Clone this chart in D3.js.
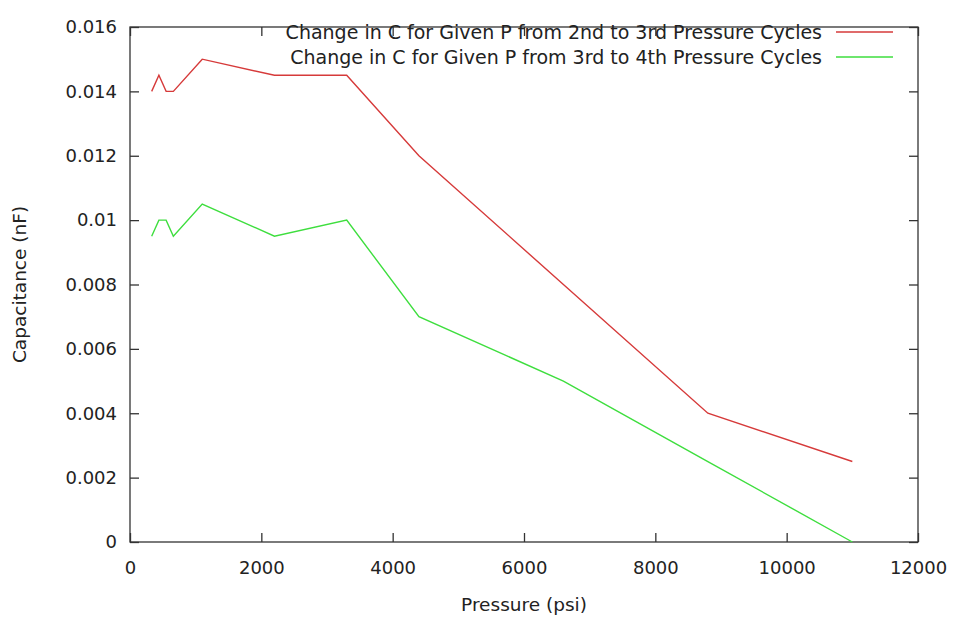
<!DOCTYPE html>
<html>
<head>
<meta charset="utf-8">
<script src="https://cdn.jsdelivr.net/npm/d3@7"></script>
<style>
html,body{margin:0;padding:0;background:#fff;}
svg{display:block;}
text{font-family:"DejaVu Sans",sans-serif;fill:#222;}
</style>
</head>
<body>
<svg id="chart" width="953" height="618"></svg>
<script>
const pressure = [330, 440, 550, 660, 1100, 2200, 3300, 4400, 6600, 8800, 11000];
const change23 = [0.014, 0.0145, 0.014, 0.014, 0.015, 0.0145, 0.0145, 0.012, 0.008, 0.004, 0.0025];
const change34 = [0.0095, 0.010, 0.010, 0.0095, 0.0105, 0.0095, 0.010, 0.007, 0.005, 0.0025, 0];
const seriesNames = [
  "Change in C for Given P from 2nd to 3rd Pressure Cycles",
  "Change in C for Given P from 3rd to 4th Pressure Cycles"
];
const seriesColors = ["#d63a3a", "#3ede3e"];
const xTicks = [0, 2000, 4000, 6000, 8000, 10000, 12000];
const yTicks = [0, 0.002, 0.004, 0.006, 0.008, 0.01, 0.012, 0.014, 0.016];
const xTitle = "Pressure (psi)";
const yTitle = "Capacitance (nF)";

const svg = d3.select("#chart");
const m = {left:130, right:918, top:27, bottom:542};
const x = d3.scaleLinear().domain([0, 12000]).range([m.left, m.right]);
const y = d3.scaleLinear().domain([0, 0.016]).range([m.bottom, m.top]);
const tickLen = 9;
const axisColor = "#333";

svg.append("rect").attr("x", m.left).attr("y", m.top)
  .attr("width", m.right - m.left).attr("height", m.bottom - m.top)
  .attr("fill", "none").attr("stroke", axisColor).attr("stroke-width", 1.3);

const fmtY = d => d === 0 ? "0" : String(+d.toFixed(3));

const gx = svg.append("g").attr("transform", `translate(0,${m.bottom})`)
  .call(d3.axisBottom(x).tickValues(xTicks).tickSize(-tickLen).tickPadding(19).tickFormat(d3.format("d")));
const gxt = svg.append("g").attr("transform", `translate(0,${m.top})`)
  .call(d3.axisTop(x).tickValues(xTicks).tickSize(-tickLen).tickFormat(""));
const gy = svg.append("g").attr("transform", `translate(${m.left},0)`)
  .call(d3.axisLeft(y).tickValues(yTicks).tickSize(-tickLen).tickPadding(13).tickFormat(fmtY));
const gyr = svg.append("g").attr("transform", `translate(${m.right},0)`)
  .call(d3.axisRight(y).tickValues(yTicks).tickSize(-tickLen).tickFormat(""));

[gx, gxt, gy, gyr].forEach(g => {
  g.select(".domain").remove();
  g.selectAll(".tick line").attr("stroke", axisColor).attr("stroke-width", 1.3);
  g.selectAll(".tick text").attr("font-size", 18).attr("fill", "#222")
    .style("font-family", '"DejaVu Sans", sans-serif');
});

const data = [change23, change34];
const line = d3.line().x((d, i) => x(pressure[i])).y(d => y(d));
data.forEach((vals, k) => {
  svg.append("path").datum(vals).attr("d", line)
    .attr("fill", "none").attr("stroke", seriesColors[k]).attr("stroke-width", 1.4)
    .attr("stroke-linejoin", "miter");
});

const legY = [32, 57];
seriesNames.forEach((name, k) => {
  svg.append("text").attr("x", 822).attr("y", legY[k]).attr("dy", "0.35em")
    .attr("text-anchor", "end").attr("font-size", 19).text(name);
  svg.append("line").attr("x1", 836).attr("x2", 893).attr("y1", legY[k]).attr("y2", legY[k])
    .attr("stroke", seriesColors[k]).attr("stroke-width", 1.4);
});

svg.append("text").attr("x", (m.left + m.right) / 2).attr("y", 605).attr("dy", "0.35em")
  .attr("text-anchor", "middle").attr("font-size", 18.5).text(xTitle);
svg.append("text").attr("transform", `translate(20,${(m.top + m.bottom) / 2}) rotate(-90)`)
  .attr("dy", "0.35em").attr("text-anchor", "middle").attr("font-size", 18.5).text(yTitle);
</script>
</body>
</html>
